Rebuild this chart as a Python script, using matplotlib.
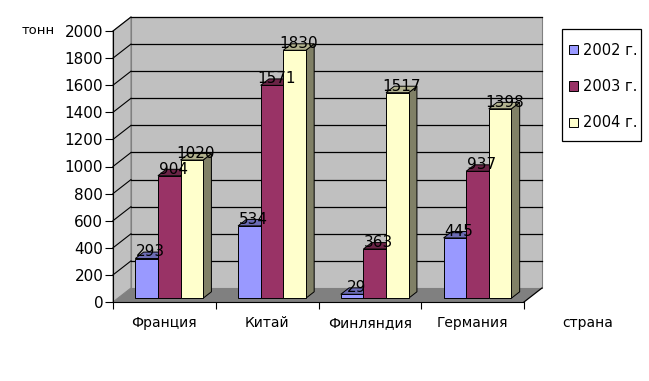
import matplotlib
matplotlib.use('Agg')
import matplotlib.pyplot as plt
from matplotlib.patches import Polygon, Rectangle

# data
countries = ['Франция', 'Китай', 'Финляндия', 'Германия']
years = ['2002 г.', '2003 г.', '2004 г.']
v2002 = [293, 534, 29, 445]
v2003 = [904, 1571, 363, 937]
v2004 = [1020, 1830, 1517, 1398]
series = [v2002, v2003, v2004]

front_cols = ['#9999FF', '#993366', '#FFFFCC']
top_cols = ['#6B6BB3', '#6B2447', '#B3B38F']
side_cols = ['#7A7ACC', '#7A2952', '#808066']

fig = plt.figure(figsize=(6.49, 3.81), dpi=100)
W, H = 649, 381
# front plane of the 3d box in pixels
x0p, x1p, y0p, y1p = 113, 524, 302, 31
ax = fig.add_axes([x0p / W, 1 - y0p / H, (x1p - x0p) / W, (y0p - y1p) / H])
ax.set_xlim(0, 4)
ax.set_ylim(0, 2000)
ax.patch.set_visible(False)

# depth of the box (data units)
DX = 18 / ((x1p - x0p) / 4)
DY = 14 * 2000 / (y0p - y1p)
ymax = 2000

# walls and floor
ax.add_patch(Rectangle((DX, DY), 4, ymax, fc='#C0C0C0', ec='#808080', lw=0.8, clip_on=False, zorder=0))
ax.add_patch(Polygon([(0, 0), (DX, DY), (DX, ymax + DY), (0, ymax)], closed=True,
                     fc='#C0C0C0', ec='#808080', lw=0.8, clip_on=False, zorder=0))
ax.add_patch(Polygon([(0, 0), (4, 0), (4 + DX, DY), (DX, DY)], closed=True,
                     fc='#808080', ec='none', clip_on=False, zorder=0.5))
ax.plot([4, 4 + DX], [0, DY], color='black', lw=0.9, clip_on=False, zorder=0.6)

# gridlines: back wall and left wall
for t in range(200, 2001, 200):
    ax.plot([DX, 4 + DX], [t + DY, t + DY], color='black', lw=0.9, clip_on=False, zorder=0.3)
    ax.plot([0, DX], [t, t + DY], color='black', lw=0.8, clip_on=False, zorder=0.3)

# bars
f0, f1 = 0.27, 0.73
bw = 0.22
start = (1 - 3 * bw) / 2
bx, by = DX * f0, DY * f0
ddx, ddy = DX * (f1 - f0), DY * (f1 - f0)
handles = []
for i in range(len(countries)):
    for k, vals in enumerate(series):
        v = vals[i]
        xl = i + start + k * bw + bx
        xr = xl + bw
        ax.add_patch(Polygon([(xr, by), (xr + ddx, by + ddy), (xr + ddx, by + v + ddy), (xr, by + v)],
                             closed=True, fc=side_cols[k], ec='black', lw=0.7, clip_on=False, zorder=2))
        ax.add_patch(Polygon([(xl, by + v), (xr, by + v), (xr + ddx, by + v + ddy), (xl + ddx, by + v + ddy)],
                             closed=True, fc=top_cols[k], ec='black', lw=0.7, clip_on=False, zorder=2))
        b = ax.bar(xl, v, width=bw, bottom=by, align='edge', color=front_cols[k], edgecolor='black',
                   lw=0.7, zorder=2, clip_on=False)
        if i == 0:
            handles.append(b)
        ax.text(xl + bw / 2 + ddx / 2, by + v + ddy / 2 + 25, str(v), ha='center', va='center',
                fontsize=11, zorder=5)

# axes
for s in ['top', 'right']:
    ax.spines[s].set_visible(False)
ax.spines['left'].set_color('black')
ax.spines['bottom'].set_color('black')
ax.spines['left'].set_zorder(4)
ax.spines['bottom'].set_zorder(4)
ax.set_yticks(range(0, 2001, 200))
ax.tick_params(axis='y', direction='out', length=6, labelsize=11, pad=1)
ax.set_xticks([0, 1, 2, 3, 4])
ax.set_xticklabels([])
ax.set_xticks([0.5, 1.5, 2.5, 3.5], minor=True)
ax.set_xticklabels(countries, minor=True)
ax.tick_params(axis='x', which='major', direction='out', length=5)
ax.tick_params(axis='x', which='minor', length=0, labelsize=10, pad=10)

fig.text(22 / W, 1 - 30 / H, 'тонн', fontsize=9.5, va='center', ha='left')
fig.text(588 / W, 1 - 323 / H, 'страна', fontsize=10, va='center', ha='center')

# legend box
fig.patches.append(Rectangle((562 / W, 1 - 141 / H), 79 / W, 112 / H, transform=fig.transFigure,
                             fc='white', ec='black', lw=0.9))
leg = fig.legend(handles, years, loc='upper left', bbox_to_anchor=(569 / W, 1 - 43 / H), fontsize=10.5,
                 frameon=False, handlelength=0.6, handleheight=0.6, labelspacing=1.45,
                 borderpad=0, handletextpad=0.35, borderaxespad=0)

fig.savefig('out.png', dpi=100, facecolor='white')
